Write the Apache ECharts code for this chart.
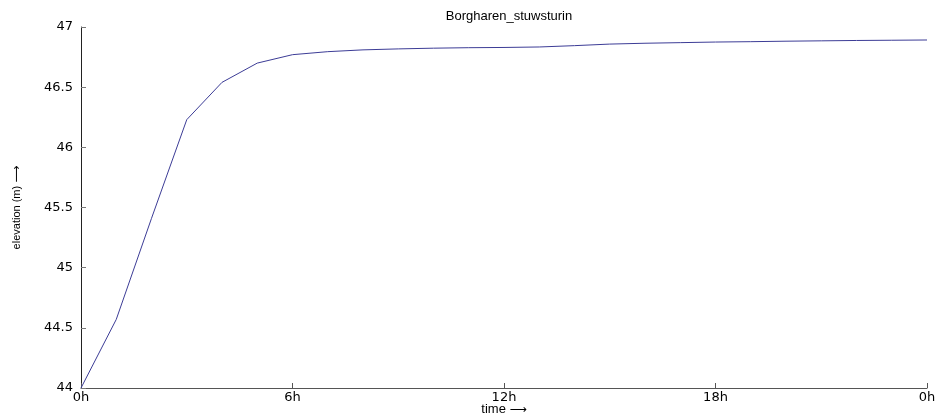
<!DOCTYPE html>
<html>
<head>
<meta charset="utf-8">
<script src="https://cdn.jsdelivr.net/npm/echarts@6/dist/echarts.min.js"></script>
<style>
  html, body { margin: 0; padding: 0; background: #fff; }
  #chart { width: 939px; height: 416px; }
</style>
</head>
<body>
<div id="chart"></div>
<script>
// Water level at Borgharen weir, one reading per hour over a day
const hours = [0, 1, 2, 3, 4, 5, 6, 7, 8, 9, 10, 11, 12, 13, 14, 15, 16, 17, 18, 19, 20, 21, 22, 23, 24];
const elevation = [44.00, 44.57, 45.41, 46.23, 46.54, 46.70, 46.77, 46.795, 46.81, 46.818, 46.824, 46.828, 46.83,
                   46.834, 46.845, 46.858, 46.865, 46.870, 46.875, 46.878, 46.882, 46.885, 46.888, 46.890, 46.892];
const xTicks = [0, 6, 12, 18, 24];
const yTicks = [44, 44.5, 45, 45.5, 46, 46.5, 47];

const font = '"Liberation Sans", Arial, sans-serif';
const tickFont = '"DejaVu Sans", sans-serif';
const arrowStyle = { fontFamily: 'DejaVu Sans', fontSize: 12, color: '#000' };
const chart = echarts.init(document.getElementById('chart'));
chart.setOption({
  animation: false,
  backgroundColor: '#ffffff',
  title: {
    text: 'Borgharen_stuwsturin',
    left: 504,
    textAlign: 'center',
    top: 5,
    textStyle: { fontFamily: font, fontSize: 13, fontWeight: 'normal', color: '#000' }
  },
  grid: { left: 81, right: 12, top: 27, bottom: 28, outerBoundsMode: 'none', containLabel: false },
  xAxis: {
    type: 'value',
    min: xTicks[0],
    max: xTicks[xTicks.length - 1],
    interval: 6,
    name: 'time {a|\u27F6}',
    nameLocation: 'middle',
    nameGap: 15,
    nameMoveOverlap: false,
    nameTextStyle: { fontFamily: font, fontSize: 13, color: '#000', rich: { a: arrowStyle } },
    axisLine: { lineStyle: { color: '#555', width: 1 } },
    axisTick: { inside: true, length: 5, lineStyle: { color: '#555' } },
    axisLabel: {
      margin: 3,
      fontFamily: tickFont, fontSize: 13, color: '#000',
      formatter: v => (v % 24) + 'h'
    },
    splitLine: { show: false }
  },
  yAxis: {
    type: 'value',
    min: yTicks[0],
    max: yTicks[yTicks.length - 1],
    interval: 0.5,
    name: 'elevation (m) {a|\u27F6}',
    nameLocation: 'middle',
    nameRotate: 90,
    nameGap: 58,
    nameMoveOverlap: false,
    nameTextStyle: { fontFamily: font, fontSize: 11, color: '#000', rich: { a: arrowStyle } },
    axisLine: { show: true, lineStyle: { color: '#222', width: 1 } },
    axisTick: { show: true, inside: true, length: 5, lineStyle: { color: '#777' } },
    axisLabel: {
      margin: 8,
      fontFamily: tickFont, fontSize: 13, color: '#000',
      formatter: v => String(v)
    },
    splitLine: { show: false }
  },
  series: [{
    type: 'line',
    data: hours.map((h, i) => [h, elevation[i]]),
    showSymbol: false,
    lineStyle: { color: '#3c3c96', width: 1 },
    itemStyle: { color: '#3c3c96' }
  }]
});
</script>
</body>
</html>
